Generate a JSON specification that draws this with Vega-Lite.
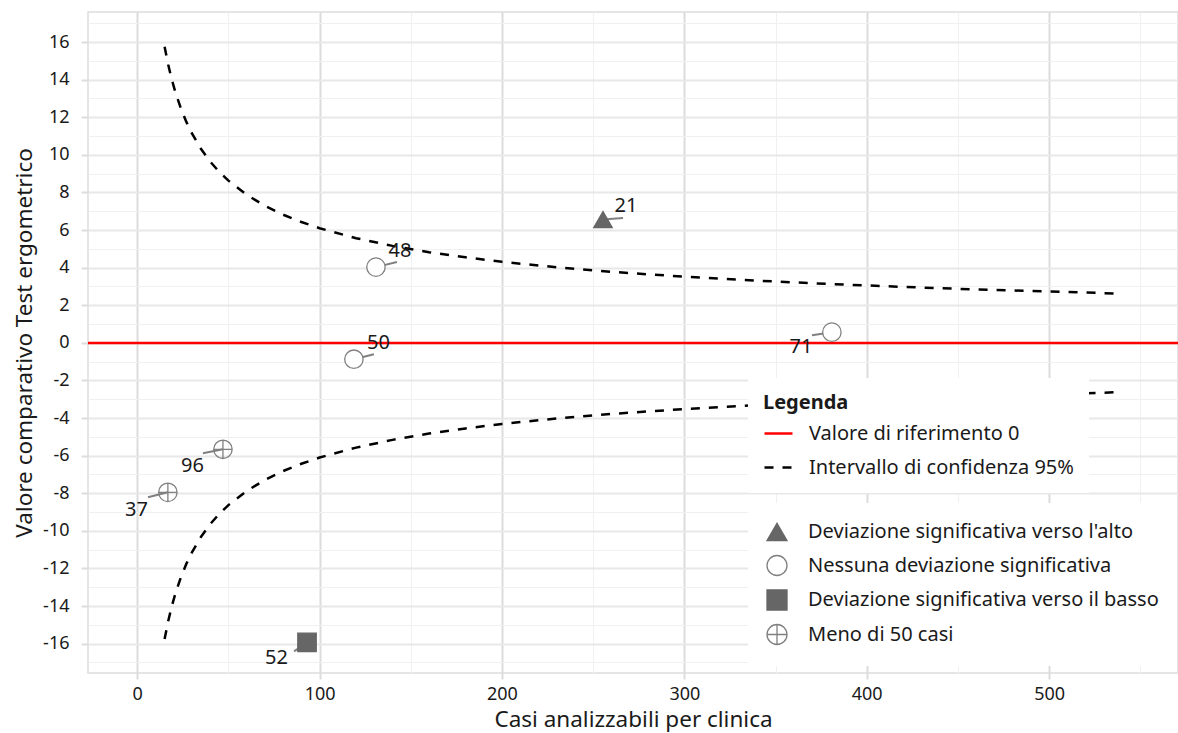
{
  "$schema": "https://vega.github.io/schema/vega-lite/v6.json",
  "width": 1090,
  "height": 661,
  "autosize": {"type": "none"},
  "padding": {"left": 88, "top": 12, "right": 0, "bottom": 60},
  "background": "white",
  "config": {
    "font": "Noto Sans",
    "view": {"stroke": "#dddddd", "strokeWidth": 1.5},
    "axis": {
      "labelFont": "Noto Sans",
      "titleFont": "Noto Sans",
      "labelColor": "#1a1a1a",
      "titleColor": "#1a1a1a",
      "titleFontWeight": "normal"
    },
    "legend": {"labelFont": "Noto Sans", "titleFont": "Noto Sans"}
  },
  "datasets": {
    "ci": [
      {"n": 15, "v": 15.75, "grp": "upper", "series": "Intervallo di confidenza 95%"},
      {"n": 17, "v": 14.79, "grp": "upper", "series": "Intervallo di confidenza 95%"},
      {"n": 19, "v": 13.99, "grp": "upper", "series": "Intervallo di confidenza 95%"},
      {"n": 21, "v": 13.31, "grp": "upper", "series": "Intervallo di confidenza 95%"},
      {"n": 24, "v": 12.45, "grp": "upper", "series": "Intervallo di confidenza 95%"},
      {"n": 27, "v": 11.74, "grp": "upper", "series": "Intervallo di confidenza 95%"},
      {"n": 30, "v": 11.14, "grp": "upper", "series": "Intervallo di confidenza 95%"},
      {"n": 35, "v": 10.31, "grp": "upper", "series": "Intervallo di confidenza 95%"},
      {"n": 40, "v": 9.64, "grp": "upper", "series": "Intervallo di confidenza 95%"},
      {"n": 45, "v": 9.09, "grp": "upper", "series": "Intervallo di confidenza 95%"},
      {"n": 50, "v": 8.63, "grp": "upper", "series": "Intervallo di confidenza 95%"},
      {"n": 60, "v": 7.88, "grp": "upper", "series": "Intervallo di confidenza 95%"},
      {"n": 70, "v": 7.29, "grp": "upper", "series": "Intervallo di confidenza 95%"},
      {"n": 80, "v": 6.82, "grp": "upper", "series": "Intervallo di confidenza 95%"},
      {"n": 90, "v": 6.43, "grp": "upper", "series": "Intervallo di confidenza 95%"},
      {"n": 100, "v": 6.10, "grp": "upper", "series": "Intervallo di confidenza 95%"},
      {"n": 120, "v": 5.57, "grp": "upper", "series": "Intervallo di confidenza 95%"},
      {"n": 140, "v": 5.16, "grp": "upper", "series": "Intervallo di confidenza 95%"},
      {"n": 160, "v": 4.82, "grp": "upper", "series": "Intervallo di confidenza 95%"},
      {"n": 180, "v": 4.55, "grp": "upper", "series": "Intervallo di confidenza 95%"},
      {"n": 200, "v": 4.31, "grp": "upper", "series": "Intervallo di confidenza 95%"},
      {"n": 230, "v": 4.02, "grp": "upper", "series": "Intervallo di confidenza 95%"},
      {"n": 260, "v": 3.78, "grp": "upper", "series": "Intervallo di confidenza 95%"},
      {"n": 300, "v": 3.52, "grp": "upper", "series": "Intervallo di confidenza 95%"},
      {"n": 340, "v": 3.31, "grp": "upper", "series": "Intervallo di confidenza 95%"},
      {"n": 380, "v": 3.13, "grp": "upper", "series": "Intervallo di confidenza 95%"},
      {"n": 420, "v": 2.98, "grp": "upper", "series": "Intervallo di confidenza 95%"},
      {"n": 460, "v": 2.84, "grp": "upper", "series": "Intervallo di confidenza 95%"},
      {"n": 500, "v": 2.73, "grp": "upper", "series": "Intervallo di confidenza 95%"},
      {"n": 540, "v": 2.62, "grp": "upper", "series": "Intervallo di confidenza 95%"},
      {"n": 15, "v": -15.75, "grp": "lower", "series": "Intervallo di confidenza 95%"},
      {"n": 17, "v": -14.79, "grp": "lower", "series": "Intervallo di confidenza 95%"},
      {"n": 19, "v": -13.99, "grp": "lower", "series": "Intervallo di confidenza 95%"},
      {"n": 21, "v": -13.31, "grp": "lower", "series": "Intervallo di confidenza 95%"},
      {"n": 24, "v": -12.45, "grp": "lower", "series": "Intervallo di confidenza 95%"},
      {"n": 27, "v": -11.74, "grp": "lower", "series": "Intervallo di confidenza 95%"},
      {"n": 30, "v": -11.14, "grp": "lower", "series": "Intervallo di confidenza 95%"},
      {"n": 35, "v": -10.31, "grp": "lower", "series": "Intervallo di confidenza 95%"},
      {"n": 40, "v": -9.64, "grp": "lower", "series": "Intervallo di confidenza 95%"},
      {"n": 45, "v": -9.09, "grp": "lower", "series": "Intervallo di confidenza 95%"},
      {"n": 50, "v": -8.63, "grp": "lower", "series": "Intervallo di confidenza 95%"},
      {"n": 60, "v": -7.88, "grp": "lower", "series": "Intervallo di confidenza 95%"},
      {"n": 70, "v": -7.29, "grp": "lower", "series": "Intervallo di confidenza 95%"},
      {"n": 80, "v": -6.82, "grp": "lower", "series": "Intervallo di confidenza 95%"},
      {"n": 90, "v": -6.43, "grp": "lower", "series": "Intervallo di confidenza 95%"},
      {"n": 100, "v": -6.10, "grp": "lower", "series": "Intervallo di confidenza 95%"},
      {"n": 120, "v": -5.57, "grp": "lower", "series": "Intervallo di confidenza 95%"},
      {"n": 140, "v": -5.16, "grp": "lower", "series": "Intervallo di confidenza 95%"},
      {"n": 160, "v": -4.82, "grp": "lower", "series": "Intervallo di confidenza 95%"},
      {"n": 180, "v": -4.55, "grp": "lower", "series": "Intervallo di confidenza 95%"},
      {"n": 200, "v": -4.31, "grp": "lower", "series": "Intervallo di confidenza 95%"},
      {"n": 230, "v": -4.02, "grp": "lower", "series": "Intervallo di confidenza 95%"},
      {"n": 260, "v": -3.78, "grp": "lower", "series": "Intervallo di confidenza 95%"},
      {"n": 300, "v": -3.52, "grp": "lower", "series": "Intervallo di confidenza 95%"},
      {"n": 340, "v": -3.31, "grp": "lower", "series": "Intervallo di confidenza 95%"},
      {"n": 380, "v": -3.13, "grp": "lower", "series": "Intervallo di confidenza 95%"},
      {"n": 420, "v": -2.98, "grp": "lower", "series": "Intervallo di confidenza 95%"},
      {"n": 460, "v": -2.84, "grp": "lower", "series": "Intervallo di confidenza 95%"},
      {"n": 500, "v": -2.73, "grp": "lower", "series": "Intervallo di confidenza 95%"},
      {"n": 540, "v": -2.62, "grp": "lower", "series": "Intervallo di confidenza 95%"}
    ],
    "ref": [{"v": 0, "series": "Valore di riferimento 0"}],
    "pts": [
      {"id": "21", "n": 255.4, "val": 6.56, "cat": "Deviazione significativa verso l'alto", "ex": 266.4, "ey": 6.64, "lx": 268.0, "ly": 7.28},
      {"id": "48", "n": 130.9, "val": 4.03, "cat": "Nessuna deviazione significativa", "ex": 142.4, "ey": 4.30, "lx": 144.1, "ly": 4.88},
      {"id": "50", "n": 118.8, "val": -0.87, "cat": "Nessuna deviazione significativa", "ex": 129.8, "ey": -0.60, "lx": 132.3, "ly": 0.01},
      {"id": "71", "n": 380.9, "val": 0.57, "cat": "Nessuna deviazione significativa", "ex": 370.0, "ey": 0.41, "lx": 364.0, "ly": -0.23},
      {"id": "96", "n": 47.0, "val": -5.66, "cat": "Meno di 50 casi", "ex": 36.0, "ey": -5.87, "lx": 30.3, "ly": -6.54},
      {"id": "37", "n": 16.8, "val": -7.95, "cat": "Meno di 50 casi", "ex": 5.9, "ey": -8.21, "lx": -0.4, "ly": -8.88},
      {"id": "52", "n": 93.1, "val": -15.93, "cat": "Deviazione significativa verso il basso", "ex": 86.0, "ey": -16.41, "lx": 76.3, "ly": -16.75}
    ]
  },
  "layer": [
    {
      "data": {"name": "pts"},
      "mark": {"type": "point", "opacity": 0},
      "encoding": {
        "x": {"field": "n", "type": "quantitative", "scale": {"domain": [-27, 570.7], "nice": false, "zero": false},
          "axis": {"orient": "bottom", "values": [50, 150, 250, 350, 450, 550], "grid": true, "gridColor": "#f0f0f0", "gridWidth": 1, "labels": false, "ticks": false, "domain": false, "title": null}},
        "y": {"field": "val", "type": "quantitative", "scale": {"domain": [-17.56, 17.6], "nice": false, "zero": false},
          "axis": {"orient": "left", "values": [-17, -15, -13, -11, -9, -7, -5, -3, -1, 1, 3, 5, 7, 9, 11, 13, 15, 17], "grid": true, "gridColor": "#f0f0f0", "gridWidth": 1, "labels": false, "ticks": false, "domain": false, "title": null}}
      }
    },
    {
      "data": {"name": "ci"},
      "mark": {"type": "line", "strokeWidth": 2.5},
      "encoding": {
        "x": {"field": "n", "type": "quantitative", "scale": {"domain": [-27, 570.7], "nice": false, "zero": false},
          "axis": {"orient": "bottom", "values": [0, 100, 200, 300, 400, 500], "grid": true, "gridColor": "#dcdcdc", "gridWidth": 2, "domain": false, "ticks": true, "tickColor": "#dcdcdc", "tickWidth": 2, "tickSize": 6, "labelPadding": 6, "labelFontSize": 18, "title": "Casi analizzabili per clinica", "titleFontSize": 22.5, "titlePadding": 5, "labelExpr": "'' + datum.value"}},
        "y": {"field": "v", "type": "quantitative", "scale": {"domain": [-17.56, 17.6], "nice": false, "zero": false},
          "axis": {"orient": "left", "values": [-16, -14, -12, -10, -8, -6, -4, -2, 0, 2, 4, 6, 8, 10, 12, 14, 16], "grid": true, "gridColor": "#e8e8e8", "gridWidth": 2, "domain": false, "ticks": true, "tickColor": "#dcdcdc", "tickWidth": 2, "tickSize": 7, "labelPadding": 12, "labelFontSize": 18, "title": "Valore comparativo Test ergometrico", "titleFontSize": 22.5, "titlePadding": 6, "labelExpr": "'' + datum.value"}},
        "detail": {"field": "grp"},
        "color": {"field": "series", "type": "nominal",
          "scale": {"domain": ["Valore di riferimento 0", "Intervallo di confidenza 95%"], "range": ["#ff0000", "#000000"]},
          "legend": {"title": "Legenda", "orient": "none", "legendX": 660, "legendY": 366, "direction": "vertical", "fillColor": "white", "padding": 15, "symbolType": "stroke", "symbolSize": 784, "symbolStrokeWidth": 2.5, "labelFontSize": 20, "titleFontSize": 20, "titleFontWeight": "bold", "labelOffset": 15, "rowPadding": 8, "titlePadding": 5, "labelColor": "#1a1a1a", "titleColor": "#1a1a1a", "labelLimit": 500}},
        "strokeDash": {"field": "series", "type": "nominal",
          "scale": {"domain": ["Valore di riferimento 0", "Intervallo di confidenza 95%"], "range": [[1, 0], [9, 9]]},
          "legend": {"title": "Legenda", "orient": "none", "legendX": 660, "legendY": 366, "direction": "vertical", "fillColor": "white", "padding": 15, "symbolType": "stroke", "symbolSize": 784, "symbolStrokeWidth": 2.5, "labelFontSize": 20, "titleFontSize": 20, "titleFontWeight": "bold", "labelOffset": 15, "rowPadding": 8, "titlePadding": 5, "labelColor": "#1a1a1a", "titleColor": "#1a1a1a", "labelLimit": 500}}
      }
    },
    {
      "data": {"name": "ref"},
      "mark": {"type": "rule", "strokeWidth": 2.5},
      "encoding": {
        "y": {"field": "v", "type": "quantitative", "axis": null},
        "color": {"field": "series", "type": "nominal"},
        "strokeDash": {"field": "series", "type": "nominal"}
      }
    },
    {
      "data": {"name": "pts"},
      "mark": {"type": "rule", "color": "#808080", "strokeWidth": 2},
      "encoding": {
        "x": {"field": "n", "type": "quantitative", "axis": null},
        "y": {"field": "val", "type": "quantitative", "axis": null},
        "x2": {"field": "ex"},
        "y2": {"field": "ey"}
      }
    },
    {
      "data": {"name": "pts"},
      "mark": {"type": "point", "opacity": 1, "strokeWidth": 1.3},
      "encoding": {
        "x": {"field": "n", "type": "quantitative", "axis": null},
        "y": {"field": "val", "type": "quantitative", "axis": null},
        "shape": {"field": "cat", "type": "nominal",
          "scale": {"domain": ["Deviazione significativa verso l'alto", "Nessuna deviazione significativa", "Deviazione significativa verso il basso", "Meno di 50 casi"],
            "range": ["triangle-up", "circle", "square", "M-1,0A1,1,0,1,1,1,0A1,1,0,1,1,-1,0ZM-1,0H1M0,-1V1"]},
          "legend": {"title": null, "orient": "none", "legendX": 660, "legendY": 491, "fillColor": "white", "padding": 18, "labelFontSize": 20, "labelOffset": 20, "rowPadding": 8.5, "symbolSize": 400, "symbolStrokeWidth": 1.3, "labelColor": "#1a1a1a", "labelLimit": 500}},
        "fill": {"field": "cat", "type": "nominal",
          "scale": {"domain": ["Deviazione significativa verso l'alto", "Nessuna deviazione significativa", "Deviazione significativa verso il basso", "Meno di 50 casi"],
            "range": ["#666666", "#ffffff", "#666666", "transparent"]},
          "legend": {"title": null, "orient": "none", "legendX": 660, "legendY": 491, "fillColor": "white", "padding": 18, "labelFontSize": 20, "labelOffset": 20, "rowPadding": 8.5, "symbolSize": 400, "symbolStrokeWidth": 1.3, "labelColor": "#1a1a1a", "labelLimit": 500}},
        "stroke": {"field": "cat", "type": "nominal",
          "scale": {"domain": ["Deviazione significativa verso l'alto", "Nessuna deviazione significativa", "Deviazione significativa verso il basso", "Meno di 50 casi"],
            "range": ["#666666", "#808080", "#666666", "#808080"]},
          "legend": {"title": null, "orient": "none", "legendX": 660, "legendY": 491, "fillColor": "white", "padding": 18, "labelFontSize": 20, "labelOffset": 20, "rowPadding": 8.5, "symbolSize": 400, "symbolStrokeWidth": 1.3, "labelColor": "#1a1a1a", "labelLimit": 500}},
        "size": {"value": 340}
      }
    },
    {
      "data": {"name": "pts"},
      "mark": {"type": "text", "fontSize": 20, "color": "#1a1a1a", "align": "center", "baseline": "middle"},
      "encoding": {
        "x": {"field": "lx", "type": "quantitative", "axis": null},
        "y": {"field": "ly", "type": "quantitative", "axis": null},
        "text": {"field": "id"}
      }
    }
  ],
  "resolve": {"axis": {"x": "independent", "y": "independent"}}
}
